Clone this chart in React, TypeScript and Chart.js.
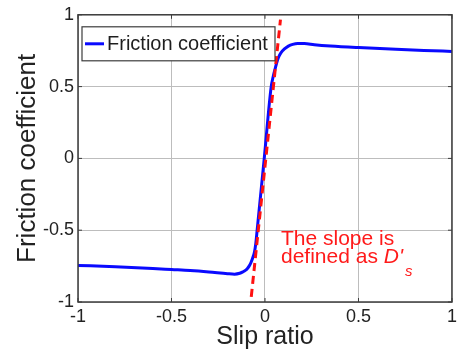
import React, { useEffect, useRef } from "react";
import { Chart, registerables } from "chart.js";

Chart.register(...registerables);

const slip = [-1, -0.8, -0.6, -0.5, -0.4, -0.3, -0.2, -0.163, -0.135, -0.118, -0.105, -0.095, -0.085, -0.075, -0.065, -0.056, -0.049, -0.042, -0.004, 0.033, 0.043, 0.054, 0.063, 0.072, 0.085, 0.104, 0.125, 0.148, 0.175, 0.21, 0.264, 0.35, 0.5, 0.7, 0.85, 1];
const friction = [-0.745, -0.755, -0.767, -0.774, -0.781, -0.791, -0.803, -0.806, -0.8, -0.79, -0.78, -0.768, -0.75, -0.725, -0.69, -0.65, -0.59, -0.5, 0, 0.498, 0.565, 0.623, 0.668, 0.703, 0.735, 0.762, 0.782, 0.794, 0.8, 0.8, 0.792, 0.783, 0.772, 0.76, 0.752, 0.745];
const slopeX = [-0.0735, 0.0827];
const slopeY = [-0.964, 0.966];
const xTicks = [-1, -0.5, 0, 0.5, 1];
const yTicks = [-1, -0.5, 0, 0.5, 1];
const legendLabel = "Friction coefficient";
const noteLine1 = "The slope is";
const noteLine2 = "defined as ";
const noteSymbol = "D'";
const noteSub = "s";

const FONT = "Arial, 'Liberation Sans', Helvetica, sans-serif";

const overlay = {
  id: "overlay",
  afterDatasetsDraw(chart: any) {
    const { ctx, chartArea } = chart;
    const { left, right, top, bottom } = chartArea;
    const xs = chart.scales.x;
    const ys = chart.scales.y;
    ctx.save();
    // frame
    ctx.strokeStyle = "#3c3c3c";
    ctx.lineWidth = 1.5;
    ctx.strokeRect(left, top, right - left, bottom - top);
    // inward ticks
    ctx.lineWidth = 1;
    ctx.beginPath();
    xTicks.forEach((v) => {
      const p = xs.getPixelForValue(v);
      ctx.moveTo(p, bottom);
      ctx.lineTo(p, bottom - 4);
      ctx.moveTo(p, top);
      ctx.lineTo(p, top + 4);
    });
    yTicks.forEach((v) => {
      const p = ys.getPixelForValue(v);
      ctx.moveTo(left, p);
      ctx.lineTo(left + 4, p);
      ctx.moveTo(right, p);
      ctx.lineTo(right - 4, p);
    });
    ctx.stroke();

    // legend
    const lx = left + 4;
    const ly = top + 12;
    const lw = 193;
    const lh = 34;
    ctx.fillStyle = "#ffffff";
    ctx.fillRect(lx, ly, lw, lh);
    ctx.strokeStyle = "#3c3c3c";
    ctx.lineWidth = 1.2;
    ctx.strokeRect(lx, ly, lw, lh);
    ctx.strokeStyle = "#0a0aff";
    ctx.lineWidth = 3;
    ctx.beginPath();
    ctx.moveTo(lx + 3, ly + lh / 2);
    ctx.lineTo(lx + 22, ly + lh / 2);
    ctx.stroke();
    ctx.fillStyle = "#1e1e1e";
    ctx.font = `20px ${FONT}`;
    ctx.textBaseline = "middle";
    ctx.textAlign = "left";
    ctx.fillText(legendLabel, lx + 25, ly + lh / 2 + 1);

    // annotation
    ctx.fillStyle = "#ff1a1a";
    ctx.textBaseline = "alphabetic";
    ctx.font = `21px ${FONT}`;
    const ax = 281;
    ctx.fillText(noteLine1, ax, 245);
    ctx.fillText(noteLine2, ax, 263);
    const w2 = ctx.measureText(noteLine2).width;
    ctx.font = `italic 21px ${FONT}`;
    ctx.fillText(noteSymbol, ax + w2, 263);
    const w3 = ctx.measureText(noteSymbol).width;
    ctx.font = `italic 15px ${FONT}`;
    ctx.fillText(noteSub, ax + w2 + w3 + 2, 276);
    ctx.restore();
  },
};

export default function App() {
  const ref = useRef<HTMLCanvasElement>(null);
  useEffect(() => {
    if (!ref.current) return;
    const chart = new Chart(ref.current, {
      type: "line",
      data: {
        datasets: [
          {
            label: "slope",
            data: slopeX.map((x, i) => ({ x, y: slopeY[i] })),
            borderColor: "#ff1010",
            borderWidth: 3,
            borderDash: [8, 5],
            pointRadius: 0,
            fill: false,
            order: 0,
          },
          {
            label: legendLabel,
            data: slip.map((x, i) => ({ x, y: friction[i] })),
            borderColor: "#0a0aff",
            borderWidth: 3,
            pointRadius: 0,
            fill: false,
            cubicInterpolationMode: "monotone",
            order: 1,
          },
        ],
      },
      options: {
        responsive: false,
        animation: false,
        layout: { padding: { top: 10, right: 8, left: 0, bottom: 0 } },
        plugins: { legend: { display: false }, tooltip: { enabled: false } },
        scales: {
          x: {
            type: "linear",
            min: -1,
            max: 1,
            afterBuildTicks: (s: any) => {
              s.ticks = xTicks.map((v) => ({ value: v }));
            },
            afterFit: (s: any) => {
              s.height = 55;
            },
            grid: { color: "#bdbdbd", lineWidth: 1, drawTicks: false },
            border: { display: false },
            ticks: {
              padding: 4,
              color: "#222222",
              font: { size: 18, family: FONT },
              maxRotation: 0,
              callback: (v: any) => String(v),
            },
            title: {
              display: true,
              text: "Slip ratio",
              color: "#222222",
              font: { size: 25, family: FONT },
              padding: { top: 0, bottom: 5 },
            },
          },
          y: {
            type: "linear",
            min: -1,
            max: 1,
            afterBuildTicks: (s: any) => {
              s.ticks = yTicks.map((v) => ({ value: v }));
            },
            afterFit: (s: any) => {
              s.width = 78;
            },
            grid: { color: "#bdbdbd", lineWidth: 1, drawTicks: false },
            border: { display: false },
            ticks: {
              padding: 4,
              color: "#222222",
              font: { size: 18, family: FONT },
              callback: (v: any) => String(v),
            },
            title: {
              display: true,
              text: "Friction coefficient",
              color: "#222222",
              font: { size: 26, family: FONT },
              padding: { top: 12, bottom: 0 },
            },
          },
        },
      },
      plugins: [overlay],
    });
    return () => chart.destroy();
  }, []);
  return (
    <div style={{ position: "absolute", left: 0, top: 0, width: 461, height: 357, background: "#fff" }}>
      <canvas ref={ref} width={461} height={357} />
    </div>
  );
}
